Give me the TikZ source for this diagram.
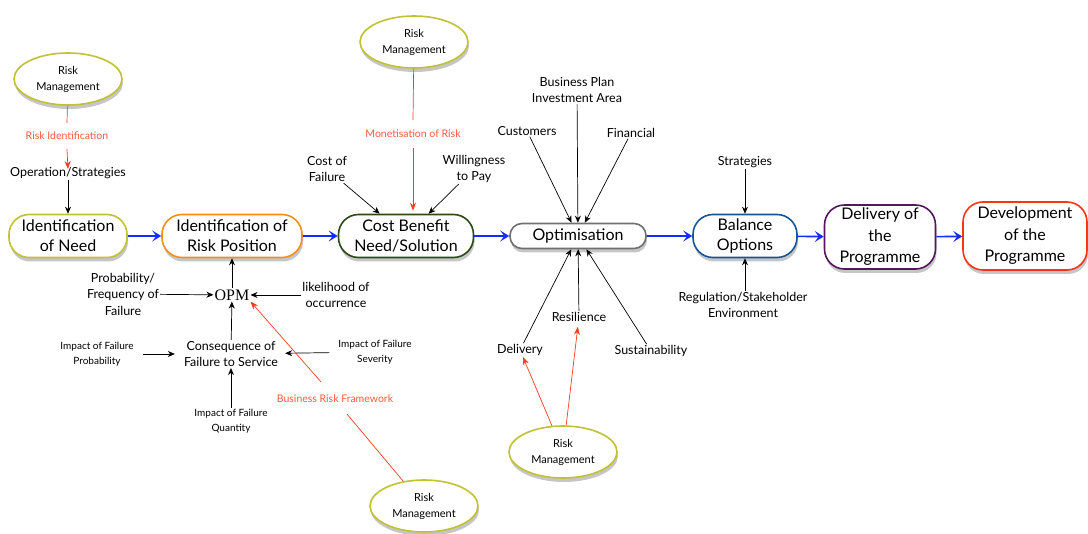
\documentclass[tikz,border=0pt]{standalone}
\usepackage{fontspec}
\setmainfont{Lato}
\newfontfamily\opmfont{Liberation Serif}
\usetikzlibrary{positioning,arrows.meta,shadows,shapes.geometric}
\definecolor{RiskOlive}{RGB}{192,194,52}
\definecolor{NeedOrange}{RGB}{246,142,22}
\definecolor{CostGreen}{RGB}{42,74,22}
\definecolor{OptGray}{RGB}{112,112,112}
\definecolor{BalanceBlue}{RGB}{22,84,150}
\definecolor{DelivPurple}{RGB}{84,22,92}
\definecolor{DevRed}{RGB}{250,52,22}
\definecolor{FlowBlue}{RGB}{22,44,250}
\definecolor{RiskRed}{RGB}{250,60,30}
\definecolor{RiskText}{RGB}{250,90,60}
\tikzset{
    stage/.style={rectangle, draw, line width=1.6pt, fill=white,
        rounded corners=20pt, minimum height=43pt, inner sep=2pt,
        align=center, font=\fontsize{16}{20}\selectfont,
        drop shadow={opacity=0.45, shadow xshift=1pt, shadow yshift=-4pt}},
    riskmgmt/.style={ellipse, draw=RiskOlive, line width=1.6pt, fill=white,
        minimum width=108pt, minimum height=52pt, inner sep=1pt,
        align=center, font=\fontsize{11}{16}\selectfont,
        drop shadow={opacity=0.45, shadow xshift=1pt, shadow yshift=-4pt}},
    factor/.style={align=center, inner sep=1pt, font=\fontsize{12.5}{16.5}\selectfont},
    minor/.style={align=center, inner sep=1pt, font=\fontsize{10}{15}\selectfont},
    risklabel/.style={text=RiskText, inner sep=1pt, font=\fontsize{10.5}{12}\selectfont},
    flow/.style={draw=FlowBlue, line width=1.6pt, -{Stealth[length=9pt,width=11pt,inset=4pt]}},
    feed/.style={draw=black, line width=0.7pt, -{Stealth[length=7pt,width=6pt]}},
    riskline/.style={draw=RiskRed, line width=0.7pt},
    riskarrow/.style={riskline, -{Stealth[length=8pt,width=6pt]}}
}
\begin{document}
\begin{tikzpicture}[x=1pt, y=-1pt]
    \useasboundingbox (0,0) rectangle (1088,534);

    % --- main flow ---
    \node[stage, draw=RiskOlive, minimum width=118pt] (need) at (68,236) {Identification\\of Need};
    \node[stage, draw=NeedOrange, minimum width=140pt] (riskpos) at (232,236) {Identification of\\Risk Position};
    \node[stage, draw=CostGreen, minimum width=135pt] (costben) at (406,236) {Cost Benefit\\Need/Solution};
    \node[stage, draw=OptGray, minimum width=136pt, minimum height=25pt, rounded corners=12pt] (optim) at (578,236) {Optimisation};
    \node[stage, draw=BalanceBlue, minimum width=104pt] (balance) at (745,236) {Balance\\Options};
    \node[stage, draw=DelivPurple, minimum width=111pt, minimum height=64pt, font=\fontsize{16}{21.5}\selectfont] (deliv) at (880,237) {Delivery of\\the\\Programme};
    \node[stage, draw=DevRed, minimum width=124pt, minimum height=68pt, font=\fontsize{16}{21.5}\selectfont] (devel) at (1025,236) {Development\\of the\\Programme};

    \draw[flow] (need) -- (riskpos);
    \draw[flow] (riskpos) -- (costben);
    \draw[flow] (costben) -- (optim);
    \draw[flow] (optim) -- (balance);
    \draw[flow] (balance) -- (deliv);
    \draw[flow] (deliv) -- (devel);

    % --- risk management ellipses ---
    \node[riskmgmt] (rmneed) at (68,79) {Risk\\Management};
    \node[riskmgmt] (rmcost) at (414,42) {Risk\\Management};
    \node[riskmgmt] (rmopt) at (563,452) {Risk\\Management};
    \node[riskmgmt] (rmopm) at (424,506) {Risk\\Management};

    % --- identification of need ---
    \node[risklabel] (riskid) at (67,136) {Risk Identification};
    \node[factor] (opstrat) at (68,173) {Operation/Strategies};
    \draw[riskline] (rmneed) -- ([yshift=8pt]riskid.north);
    \draw[riskarrow] ([yshift=-8pt]riskid.south) -- ([yshift=-3pt]opstrat.north);
    \draw[feed] (opstrat) -- (need);

    % --- risk position ---
    \node[font=\opmfont\fontsize{16}{18}\selectfont, inner sep=1pt] (opm) at (232,295) {OPM};
    \node[factor] (probfreq) at (123,294) {Probability/\\Frequency of\\Failure};
    \node[factor] (likely) at (336,295) {likelihood of\\occurrence};
    \node[factor] (conseq) at (231,354) {Consequence of\\Failure to Service};
    \node[minor] (impprob) at (97,354) {Impact of Failure\\Probability};
    \node[minor] (impsev) at (375,352) {Impact of Failure\\Severity};
    \node[minor] (impqty) at (231,421) {Impact of Failure\\Quantity};
    \node[risklabel] (brf) at (335,399) {Business Risk Framework};
    \draw[feed] (opm) -- (riskpos);
    \draw[feed] (probfreq) -- (opm);
    \draw[feed] (likely) -- (opm);
    \draw[feed] (conseq) -- (opm);
    \draw[feed, shorten <=8pt, shorten >=8pt] (impprob) -- (conseq);
    \draw[feed, shorten <=8pt, shorten >=6pt] (impsev) -- (conseq);
    \draw[feed] (impqty) -- (conseq);
    \draw[riskline] (rmopm) -- ([shift={(12pt,-10pt)}]brf.south);
    \draw[riskarrow] ([shift={(-14pt,12pt)}]brf.north) -- (opm.south east);

    % --- cost benefit ---
    \node[risklabel] (monet) at (413,134) {Monetisation of Risk};
    \node[factor] (costfail) at (327,169) {Cost of\\Failure};
    \node[factor] (willing) at (474,169) {Willingness\\to Pay};
    \draw[riskline] (rmcost) -- ([yshift=9pt]monet.north);
    \draw[riskarrow] ([yshift=-9pt]monet.south) -- ([yshift=3pt]monet.south |- costben.north);
    \draw[feed] (costfail) -- (costben);
    \draw[feed] (willing) -- (costben);

    % --- optimisation ---
    \node[factor] (bizplan) at (577,90) {Business Plan\\Investment Area};
    \node[factor] (customers) at (527,131) {Customers};
    \node[factor] (financial) at (631,133) {Financial};
    \node[factor] (resil) at (579,317) {Resilience};
    \node[factor] (delivery) at (520,350) {Delivery};
    \node[factor] (sustain) at (651,351) {Sustainability};
    \draw[feed] (bizplan) -- (optim);
    \draw[feed] (customers) -- (optim);
    \draw[feed] (financial) -- (optim);
    \draw[feed] (resil) -- (optim);
    \draw[feed] (delivery) -- (optim);
    \draw[feed] (sustain) -- (optim);
    \draw[riskarrow] (rmopt) -- (delivery);
    \draw[riskarrow, shorten >=4pt] (rmopt) -- (resil);

    % --- balance options ---
    \node[factor] (strat) at (745,162) {Strategies};
    \node[factor] (regul) at (743,305) {Regulation/Stakeholder\\Environment};
    \draw[feed] (strat) -- (balance);
    \draw[feed] (regul.north -| balance) -- (balance);

\end{tikzpicture}
\end{document}
